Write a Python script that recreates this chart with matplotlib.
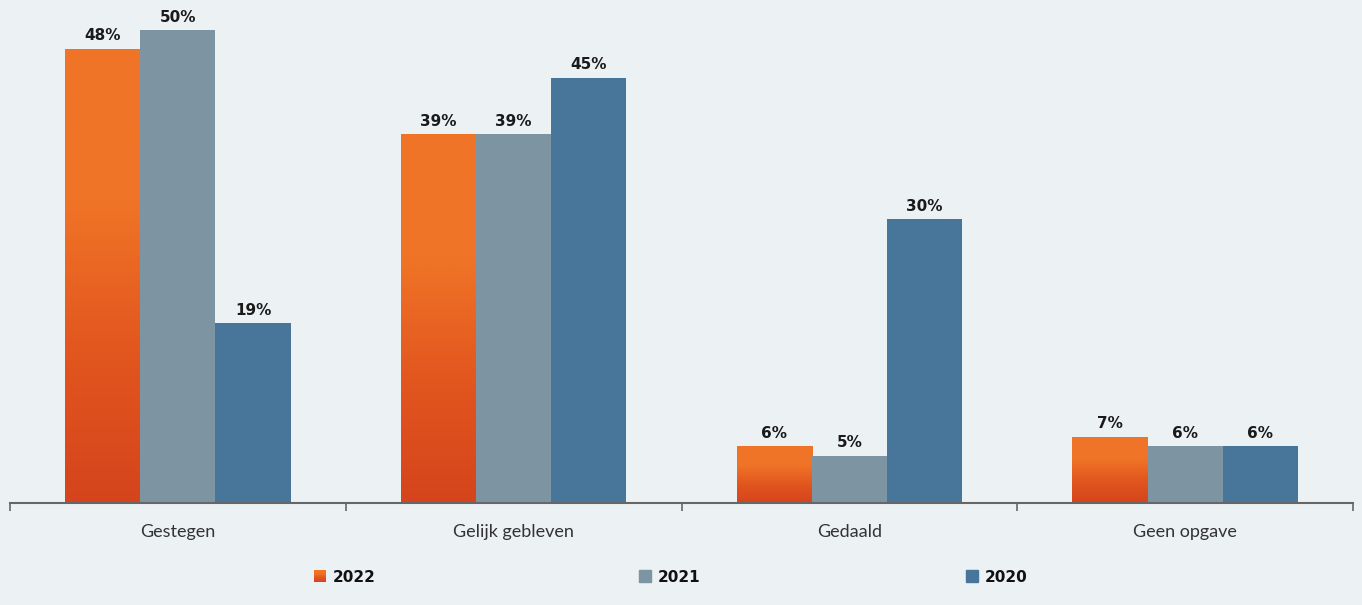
import numpy as np
import matplotlib.pyplot as plt
from matplotlib.colors import LinearSegmentedColormap
from matplotlib.patches import Rectangle

categories = ['Gestegen', 'Gelijk gebleven', 'Gedaald', 'Geen opgave']
years = ['2022', '2021', '2020']
v2022 = [48, 39, 6, 7]
v2021 = [50, 39, 5, 6]
v2020 = [19, 45, 30, 6]

bg = '#ECF1F4'
c_gray = '#7D95A2'
c_blue = '#47769A'
orange_cmap = LinearSegmentedColormap.from_list('org', ['#D5441C', '#E2561F', '#F07427', '#F07427'])

fig = plt.figure(figsize=(13.62, 6.05), dpi=100, facecolor=bg)
ax = fig.add_axes([10 / 1362, 102 / 605, 1343 / 1362, 503 / 605])
ax.set_facecolor(bg)

x = np.arange(len(categories))
w = 0.224
grad = np.linspace(0, 1, 256).reshape(-1, 1)


def label(xp, v):
    ax.text(xp, v + 0.6, f'{v}%', ha='center', va='bottom', fontsize=11,
            fontweight='bold', family='DejaVu Sans', color='#1a1a1a')


# orange bars get a vertical gradient, clipped to each bar
bars = ax.bar(x - w, v2022, w, color='none', edgecolor='none')
for b in bars:
    x0, h = b.get_x(), b.get_height()
    im = ax.imshow(grad, cmap=orange_cmap, aspect='auto', origin='lower',
                   extent=[x0, x0 + w, 0, h], zorder=2, vmin=0, vmax=1)
    im.set_clip_path(b)
ax.bar(x, v2021, w, color=c_gray, zorder=2)
ax.bar(x + w, v2020, w, color=c_blue, zorder=2)

for i in range(len(categories)):
    label(x[i] - w, v2022[i])
    label(x[i], v2021[i])
    label(x[i] + w, v2020[i])

ax.set_xlim(-0.5, len(categories) - 0.5)
ax.set_ylim(0, 53.2)
for s in ['top', 'right', 'left']:
    ax.spines[s].set_visible(False)
ax.spines['bottom'].set_color('#666666')
ax.spines['bottom'].set_linewidth(1.5)
ax.spines['bottom'].set_zorder(3)
ax.set_yticks([])
ax.set_xticks(np.arange(-0.5, len(categories), 1.0))
ax.set_xticklabels([])
ax.tick_params(axis='x', length=6, width=1.2, color='#666666')
ax.set_xticks(x, minor=True)
ax.set_xticklabels(categories, minor=True, fontsize=13, family='Lato',
                   color='#333333')
ax.tick_params(axis='x', which='minor', length=0, pad=15)

# legend
leg_x = [314, 639, 966]
cols = [None, c_gray, c_blue]
for lx, yr, c in zip(leg_x, years, cols):
    if c is None:
        lax = fig.add_axes([lx / 1362, (605 - 582) / 605, 12 / 1362, 12 / 605])
        lax.imshow(grad[::-1], cmap=orange_cmap, aspect='auto')
        lax.axis('off')
    else:
        fig.patches.append(Rectangle((lx / 1362, (605 - 582) / 605), 12 / 1362, 12 / 605,
                                     transform=fig.transFigure, color=c))
    fig.text((lx + 19) / 1362, (605 - 577) / 605, yr, fontsize=11, fontweight='bold',
             family='DejaVu Sans', va='center', ha='left', color='#111111')

fig.savefig('out.png', dpi=100, facecolor=bg)
